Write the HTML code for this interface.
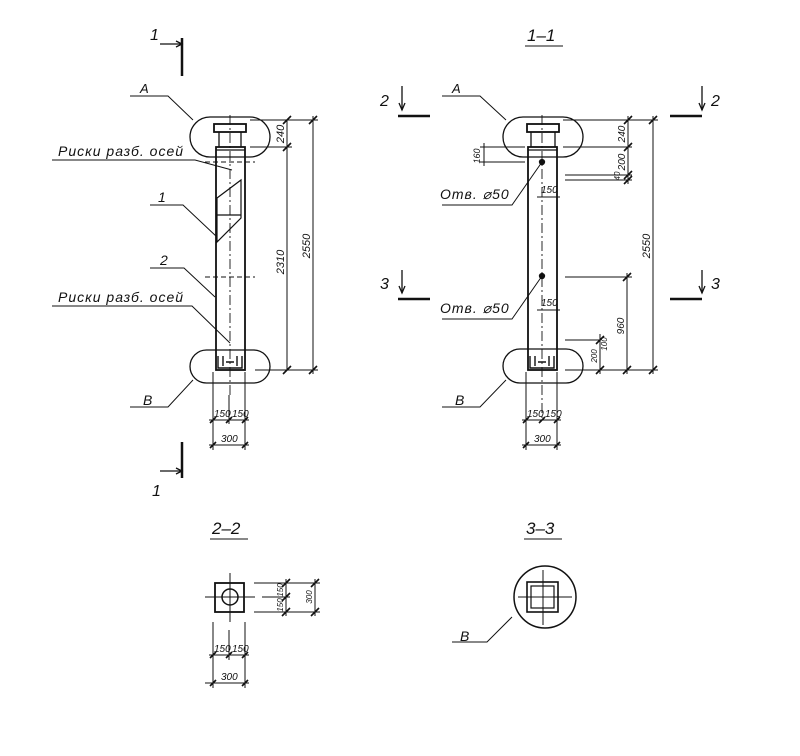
<!DOCTYPE html>
<html><head><meta charset="utf-8"><style>
html,body{margin:0;padding:0;background:#fff}
svg{display:block}
text{font-family:"Liberation Sans",sans-serif;font-style:italic;fill:#111}
</style></head><body>
<svg width="800" height="756" viewBox="0 0 800 756" xmlns="http://www.w3.org/2000/svg" stroke="#111" fill="none" stroke-width="1.3">
<g>
<line x1="182" y1="38" x2="182" y2="76" stroke-width="2.5"/>
<line x1="160" y1="44" x2="182" y2="44"/><path d="M176 41 L182 44 L176 47"/>
<text x="150" y="40" font-size="16" stroke="none">1</text>
<line x1="182" y1="442" x2="182" y2="478" stroke-width="2.5"/>
<line x1="160" y1="471" x2="182" y2="471"/><path d="M176 468 L182 471 L176 474"/>
<text x="152" y="496" font-size="16" stroke="none">1</text>
<rect x="190" y="117" width="80" height="40" rx="20"/>
<rect x="190" y="350" width="80" height="33" rx="16.5"/>
<rect x="214" y="124" width="32" height="8" stroke-width="1.8"/>
<line x1="219" y1="132" x2="219" y2="147"/><line x1="241" y1="132" x2="241" y2="147"/>
<rect x="216" y="147" width="29" height="223" stroke-width="1.8"/>
<line x1="216" y1="150" x2="245" y2="150"/>
<line x1="230" y1="115" x2="230" y2="395" stroke-dasharray="10,3,2,3" stroke-width="0.9"/>
<line x1="205" y1="162" x2="255" y2="162" stroke-dasharray="5,3" stroke-width="1"/>
<line x1="205" y1="277" x2="255" y2="277" stroke-dasharray="5,3" stroke-width="1"/>
<path d="M217 198 L241 180 L241 218 L217 242 Z" stroke-width="1.2"/>
<line x1="217" y1="215" x2="241" y2="215"/>
<path d="M218 356 L218 368 L242 368 L242 356 M223 356 L223 366 M237 356 L237 366 M226 362 L234 362" stroke-width="1.4"/>
<line x1="250" y1="120" x2="318" y2="120" stroke-width="1"/>
<line x1="250" y1="147" x2="292" y2="147" stroke-width="1"/>
<line x1="255" y1="370" x2="318" y2="370" stroke-width="1"/>
<line x1="287" y1="120" x2="287" y2="370" stroke-width="1"/>
<line x1="313" y1="116" x2="313" y2="374" stroke-width="1"/>
<path d="M283 124 L291 116 M283 151 L291 143 M283 374 L291 366 M309 124 L317 116 M309 374 L317 366" stroke-width="1.6"/>
<text transform="translate(284,134) rotate(-90)" font-size="11" stroke="none" text-anchor="middle">240</text>
<text transform="translate(284,262) rotate(-90)" font-size="11" stroke="none" text-anchor="middle">2310</text>
<text transform="translate(310,246) rotate(-90)" font-size="11" stroke="none" text-anchor="middle">2550</text>
<line x1="213" y1="372" x2="213" y2="450" stroke-width="1"/>
<line x1="245" y1="372" x2="245" y2="450" stroke-width="1"/>
<line x1="229" y1="395" x2="229" y2="424" stroke-width="1"/>
<line x1="209" y1="420" x2="249" y2="420" stroke-width="1"/>
<line x1="209" y1="445" x2="249" y2="445" stroke-width="1"/>
<path d="M210 423 L216 417 M226 423 L232 417 M242 423 L248 417 M210 448 L216 442 M242 448 L248 442" stroke-width="1.6"/>
<text x="214" y="417" font-size="10" stroke="none">150</text><text x="232" y="417" font-size="10" stroke="none">150</text>
<text x="221" y="442" font-size="10" stroke="none">300</text>
<text x="140" y="93" font-size="13" stroke="none">A</text>
<path d="M130 96 L168 96 L193 120" stroke-width="1"/>
<text x="58" y="156" font-size="14" stroke="none" letter-spacing="1">Риски разб. осей</text>
<path d="M52 160 L195 160 L232 170" stroke-width="1"/>
<text x="158" y="202" font-size="14" stroke="none">1</text>
<path d="M150 205 L183 205 L217 237" stroke-width="1"/>
<text x="160" y="265" font-size="14" stroke="none">2</text>
<path d="M150 268 L184 268 L215 297" stroke-width="1"/>
<text x="58" y="302" font-size="14" stroke="none" letter-spacing="1">Риски разб. осей</text>
<path d="M52 306 L192 306 L230 343" stroke-width="1"/>
<text x="143" y="405" font-size="14" stroke="none">B</text>
<path d="M130 407 L168 407 L193 380" stroke-width="1"/>
</g>
<g>
<text x="527" y="41" font-size="17" stroke="none">1–1</text>
<line x1="525" y1="46" x2="563" y2="46" stroke-width="1"/>
<line x1="398" y1="116" x2="430" y2="116" stroke-width="2.5"/>
<line x1="402" y1="86" x2="402" y2="110"/><path d="M399 103 L402 110 L405 103"/>
<text x="380" y="106" font-size="16" stroke="none">2</text>
<line x1="670" y1="116" x2="702" y2="116" stroke-width="2.5"/>
<line x1="702" y1="86" x2="702" y2="110"/><path d="M699 103 L702 110 L705 103"/>
<text x="711" y="106" font-size="16" stroke="none">2</text>
<line x1="398" y1="299" x2="430" y2="299" stroke-width="2.5"/>
<line x1="402" y1="270" x2="402" y2="293"/><path d="M399 286 L402 293 L405 286"/>
<text x="380" y="289" font-size="16" stroke="none">3</text>
<line x1="670" y1="299" x2="702" y2="299" stroke-width="2.5"/>
<line x1="702" y1="270" x2="702" y2="293"/><path d="M699 286 L702 293 L705 286"/>
<text x="711" y="289" font-size="16" stroke="none">3</text>
<rect x="503" y="117" width="80" height="40" rx="20"/>
<rect x="503" y="349" width="80" height="34" rx="17"/>
<rect x="527" y="124" width="32" height="8" stroke-width="1.8"/>
<line x1="531" y1="132" x2="531" y2="147"/><line x1="555" y1="132" x2="555" y2="147"/>
<rect x="528" y="147" width="29" height="223" stroke-width="1.8"/>
<line x1="528" y1="150" x2="557" y2="150"/>
<line x1="542" y1="115" x2="542" y2="420" stroke-dasharray="10,3,2,3" stroke-width="0.9"/>
<circle cx="542" cy="162" r="2.5" fill="#111"/>
<circle cx="542" cy="276" r="2.5" fill="#111"/>
<path d="M530 356 L530 368 L554 368 L554 356 M535 356 L535 366 M549 356 L549 366 M538 362 L546 362" stroke-width="1.4"/>
<line x1="480" y1="147" x2="525" y2="147" stroke-width="1"/>
<line x1="480" y1="162" x2="525" y2="162" stroke-width="1"/>
<line x1="484" y1="143" x2="484" y2="166" stroke-width="1"/>
<text transform="translate(480,156) rotate(-90)" font-size="9" stroke="none" text-anchor="middle">160</text>
<line x1="537" y1="197" x2="560" y2="197" stroke-width="1"/>
<text x="541" y="193" font-size="10" stroke="none">150</text>
<line x1="537" y1="310" x2="560" y2="310" stroke-width="1"/>
<text x="541" y="306" font-size="10" stroke="none">150</text>
<line x1="563" y1="120" x2="658" y2="120" stroke-width="1"/>
<line x1="563" y1="147" x2="632" y2="147" stroke-width="1"/>
<line x1="565" y1="175" x2="632" y2="175" stroke-width="1"/>
<line x1="565" y1="180" x2="632" y2="180" stroke-width="1"/>
<line x1="565" y1="277" x2="632" y2="277" stroke-width="1"/>
<line x1="565" y1="340" x2="600" y2="340" stroke-width="1"/>
<line x1="565" y1="370" x2="658" y2="370" stroke-width="1"/>
<line x1="628" y1="116" x2="628" y2="184" stroke-width="1"/>
<line x1="627" y1="273" x2="627" y2="374" stroke-width="1"/>
<line x1="653" y1="116" x2="653" y2="374" stroke-width="1"/>
<line x1="600" y1="334" x2="600" y2="374" stroke-width="1"/>
<path d="M624 124 L632 116 M624 151 L632 143 M624 179 L632 171 M624 184 L632 176 M623 281 L631 273 M623 374 L631 366 M649 124 L657 116 M649 374 L657 366 M596 344 L604 336 M596 374 L604 366" stroke-width="1.6"/>
<text transform="translate(625,134) rotate(-90)" font-size="10" stroke="none" text-anchor="middle">240</text>
<text transform="translate(625,162) rotate(-90)" font-size="10" stroke="none" text-anchor="middle">200</text>
<text transform="translate(620,176) rotate(-90)" font-size="8" stroke="none" text-anchor="middle">40</text>
<text transform="translate(624,326) rotate(-90)" font-size="10" stroke="none" text-anchor="middle">960</text>
<text transform="translate(650,246) rotate(-90)" font-size="11" stroke="none" text-anchor="middle">2550</text>
<text transform="translate(597,356) rotate(-90)" font-size="8" stroke="none" text-anchor="middle">200</text>
<text transform="translate(607,344) rotate(-90)" font-size="8" stroke="none" text-anchor="middle">100</text>
<line x1="526" y1="372" x2="526" y2="450" stroke-width="1"/>
<line x1="557" y1="372" x2="557" y2="450" stroke-width="1"/>
<line x1="522" y1="420" x2="561" y2="420" stroke-width="1"/>
<line x1="522" y1="445" x2="561" y2="445" stroke-width="1"/>
<path d="M523 423 L529 417 M539 423 L545 417 M554 423 L560 417 M523 448 L529 442 M554 448 L560 442" stroke-width="1.6"/>
<text x="527" y="417" font-size="10" stroke="none">150</text><text x="545" y="417" font-size="10" stroke="none">150</text>
<text x="534" y="442" font-size="10" stroke="none">300</text>
<text x="452" y="93" font-size="13" stroke="none">A</text>
<path d="M442 96 L480 96 L506 120" stroke-width="1"/>
<text x="440" y="199" font-size="14" stroke="none" letter-spacing="1">Отв. ⌀50</text>
<path d="M442 205 L512 205 L542 162" stroke-width="1"/>
<text x="440" y="313" font-size="14" stroke="none" letter-spacing="1">Отв. ⌀50</text>
<path d="M442 319 L512 319 L542 276" stroke-width="1"/>
<text x="455" y="405" font-size="14" stroke="none">B</text>
<path d="M442 407 L480 407 L506 380" stroke-width="1"/>
</g>
<g>
<text x="212" y="534" font-size="17" stroke="none">2–2</text>
<line x1="210" y1="539" x2="248" y2="539" stroke-width="1"/>
<rect x="215" y="583" width="29" height="29" stroke-width="1.8"/>
<circle cx="230" cy="597" r="8" stroke-width="1.5"/>
<line x1="205" y1="597" x2="255" y2="597" stroke-width="1"/>
<line x1="230" y1="573" x2="230" y2="622" stroke-width="1"/>
<line x1="254" y1="583" x2="320" y2="583" stroke-width="1"/>
<line x1="254" y1="612" x2="320" y2="612" stroke-width="1"/>
<line x1="262" y1="597" x2="290" y2="597" stroke-width="1"/>
<line x1="286" y1="579" x2="286" y2="616" stroke-width="1"/>
<line x1="315" y1="579" x2="315" y2="616" stroke-width="1"/>
<path d="M282 587 L290 579 M282 601 L290 593 M282 616 L290 608 M311 587 L319 579 M311 616 L319 608" stroke-width="1.6"/>
<text transform="translate(283,590) rotate(-90)" font-size="8" stroke="none" text-anchor="middle">150</text>
<text transform="translate(283,605) rotate(-90)" font-size="8" stroke="none" text-anchor="middle">150</text>
<text transform="translate(312,597) rotate(-90)" font-size="8" stroke="none" text-anchor="middle">300</text>
<line x1="213" y1="622" x2="213" y2="688" stroke-width="1"/>
<line x1="245" y1="622" x2="245" y2="688" stroke-width="1"/>
<line x1="229" y1="630" x2="229" y2="660" stroke-width="1"/>
<line x1="209" y1="655" x2="249" y2="655" stroke-width="1"/>
<line x1="205" y1="683" x2="249" y2="683" stroke-width="1"/>
<path d="M210 658 L216 652 M226 658 L232 652 M242 658 L248 652 M210 686 L216 680 M242 686 L248 680" stroke-width="1.6"/>
<text x="214" y="652" font-size="10" stroke="none">150</text><text x="232" y="652" font-size="10" stroke="none">150</text>
<text x="221" y="680" font-size="10" stroke="none">300</text>
</g>
<g>
<text x="526" y="534" font-size="17" stroke="none">3–3</text>
<line x1="524" y1="539" x2="562" y2="539" stroke-width="1"/>
<circle cx="545" cy="597" r="31" stroke-width="1.5"/>
<rect x="527" y="582" width="31" height="30" stroke-width="1.6"/>
<rect x="531" y="586" width="23" height="22" stroke-width="1.2"/>
<line x1="518" y1="597" x2="572" y2="597" stroke-width="1"/>
<line x1="543" y1="570" x2="543" y2="625" stroke-width="1"/>
<text x="460" y="641" font-size="14" stroke="none">B</text>
<path d="M452 642 L487 642 L512 617" stroke-width="1"/>
</g>
</svg>
</body></html>
